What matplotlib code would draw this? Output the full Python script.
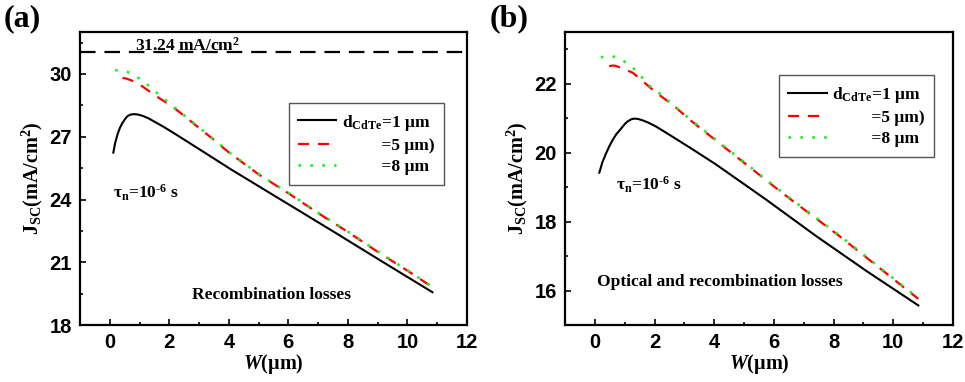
import numpy as np
import matplotlib
matplotlib.use("Agg")
import matplotlib.pyplot as plt

plt.rcParams['mathtext.fontset'] = 'custom'
plt.rcParams['mathtext.rm'] = 'Liberation Serif:bold'
plt.rcParams['mathtext.it'] = 'Liberation Serif:italic:bold'
plt.rcParams['mathtext.bf'] = 'Liberation Serif:bold'

# panel (a): recombination losses
wa_1 = [0.12, 0.18, 0.26, 0.34, 0.43, 0.52, 0.6, 0.7, 0.82, 0.95, 1.1, 1.3, 1.55, 1.8, 2.1, 2.39, 3.2, 4.06, 5.74, 7.42, 9.1, 10.84]
ja_1 = [26.24, 26.7, 27.11, 27.42, 27.67, 27.86, 27.99, 28.06, 28.08, 28.06, 28.0, 27.88, 27.68, 27.48, 27.22, 26.96, 26.23, 25.45, 24.0, 22.55, 21.08, 19.57]
wa_5 = [0.43, 0.55, 0.71, 0.9, 1.1, 1.32, 1.55, 1.8, 2.05, 2.5, 3.0, 3.5, 4.0, 5.0, 6.0, 7.0, 8.0, 9.0, 10.0, 10.84]
ja_5 = [29.81, 29.78, 29.7, 29.58, 29.4, 29.18, 28.95, 28.72, 28.5, 28.0, 27.42, 26.85, 26.25, 25.2, 24.3, 23.35, 22.45, 21.5, 20.6, 19.81]
wa_8 = [0.18, 0.35, 0.59, 0.8, 0.95, 1.15, 1.32, 1.5, 1.71, 1.9, 2.1, 2.5, 3.0, 3.5, 4.0, 5.0, 6.0, 7.0, 8.0, 9.0, 10.0, 10.84]
ja_8 = [30.18, 30.16, 30.1, 29.98, 29.82, 29.62, 29.42, 29.2, 28.94, 28.72, 28.48, 28.02, 27.44, 26.87, 26.27, 25.22, 24.32, 23.37, 22.47, 21.52, 20.62, 19.83]
ja_limit = 31.05

# panel (b): optical and recombination losses
wb_1 = [0.15, 0.25, 0.37, 0.48, 0.59, 0.72, 0.87, 1.0, 1.1, 1.22, 1.32, 1.45, 1.6, 1.8, 2.05, 2.39, 3.2, 4.06, 5.74, 7.42, 9.1, 10.84]
jb_1 = [19.42, 19.72, 19.97, 20.18, 20.36, 20.54, 20.69, 20.83, 20.91, 20.97, 20.99, 20.98, 20.94, 20.87, 20.76, 20.58, 20.14, 19.66, 18.64, 17.58, 16.57, 15.57]
wb_5 = [0.48, 0.6, 0.7, 0.85, 1.0, 1.27, 1.55, 1.88, 2.2, 2.61, 3.22, 4.4, 6.3, 8.2, 10.84]
jb_5 = [22.51, 22.53, 22.52, 22.47, 22.42, 22.32, 22.12, 21.87, 21.65, 21.39, 20.93, 20.12, 18.82, 17.58, 15.76]
wb_8 = [0.2, 0.4, 0.59, 0.8, 0.98, 1.18, 1.38, 1.55, 1.75, 1.92, 2.1, 2.4, 3.22, 4.4, 6.3, 8.2, 10.84]
jb_8 = [22.77, 22.8, 22.8, 22.74, 22.65, 22.53, 22.38, 22.22, 22.0, 21.88, 21.77, 21.55, 20.95, 20.14, 18.84, 17.6, 15.78]

labels = [r'd$_{\mathrm{CdTe}}$=1 μm', '         =5 μm)', '         =8 μm']
serif = 'Liberation Serif'
sans = 'Liberation Sans'

fig = plt.figure(figsize=(9.65, 3.82), dpi=100)
ax1 = fig.add_axes([0.0829, 0.149, 0.401, 0.767])
ax2 = fig.add_axes([0.5855, 0.149, 0.402, 0.767])

def style(ax, ylim, yticks, yminor):
    ax.set_xlim(-1, 12)
    ax.set_ylim(*ylim)
    ax.set_xticks([0, 2, 4, 6, 8, 10, 12])
    ax.set_xticks(np.arange(1, 12, 2), minor=True)
    ax.set_yticks(yticks)
    ax.set_yticks(yminor, minor=True)
    ax.tick_params(which='both', direction='in', top=False, right=False, width=1.2)
    ax.tick_params(which='major', length=4, labelsize=14.5, pad=6)
    ax.tick_params(which='minor', length=2.5)
    for lab in ax.get_xticklabels() + ax.get_yticklabels():
        lab.set_fontfamily(sans)
        lab.set_fontweight('bold')
    for s in ax.spines.values():
        s.set_linewidth(1.6)
    ax.set_xlabel(r'$\mathit{W}$(μm)', fontsize=14.5, fontfamily=serif, fontweight='bold', labelpad=0)
    ax.set_ylabel(r'J$_{\mathrm{SC}}$(mA/cm$^{\mathrm{2}}$)', fontsize=14.5, fontfamily=serif, fontweight='bold', labelpad=3)

def curves(ax, w1, j1, w5, j5, w8, j8, anchor):
    ax.plot(w1, j1, color='black', lw=1.5, label=labels[0])
    ax.plot(w5, j5, color='#ff0000', lw=1.6, dashes=(5, 4), label=labels[1])
    ax.plot(w8, j8, color='#22ee22', lw=1.9, dashes=(1, 3.5), label=labels[2])
    leg = ax.legend(loc='upper right', bbox_to_anchor=anchor, borderaxespad=0,
                    prop={'family': serif, 'weight': 'bold', 'size': 12.5},
                    handlelength=2.2, handletextpad=0.3, fancybox=False, framealpha=1,
                    edgecolor='#555555', labelspacing=0.3, borderpad=0.55)
    leg.get_frame().set_linewidth(1.0)

style(ax1, (18, 32), [18, 21, 24, 27, 30], np.arange(19.5, 32, 3))
curves(ax1, wa_1, ja_1, wa_5, ja_5, wa_8, ja_8, (0.94, 0.758))
ax1.axhline(ja_limit, color='black', lw=1.6, dashes=(7, 4))
ax1.text(2.62, ja_limit + 0.08, r'31.24 mA/cm$^{\mathrm{2}}$', fontsize=12.5, fontfamily=serif,
         fontweight='bold', ha='center', va='baseline')
ax1.text(0.1, 24.33, 'τ$_{\\mathrm{n}}$=10$^{\\mathrm{\u20106}}$ s', fontsize=12.5, fontfamily=serif,
         fontweight='bold', ha='left', va='center')
ax1.text(5.44, 19.46, 'Recombination losses', fontsize=12.5, fontfamily=serif,
         fontweight='bold', ha='center', va='center')

style(ax2, (15, 23.5), [16, 18, 20, 22], np.arange(15, 24, 1))
curves(ax2, wb_1, jb_1, wb_5, jb_5, wb_8, jb_8, (0.951, 0.853))
ax2.text(0.7, 19.06, 'τ$_{\\mathrm{n}}$=10$^{\\mathrm{\u20106}}$ s', fontsize=12.5, fontfamily=serif,
         fontweight='bold', ha='left', va='center')
ax2.text(4.18, 16.25, 'Optical and recombination losses', fontsize=12.5, fontfamily=serif,
         fontweight='bold', ha='center', va='center')

fig.text(0.004, 0.99, '(a)', fontsize=23, fontfamily=serif, fontweight='bold', ha='left', va='top')
fig.text(0.507, 0.99, '(b)', fontsize=23, fontfamily=serif, fontweight='bold', ha='left', va='top')

fig.savefig('out.png', dpi=100)
